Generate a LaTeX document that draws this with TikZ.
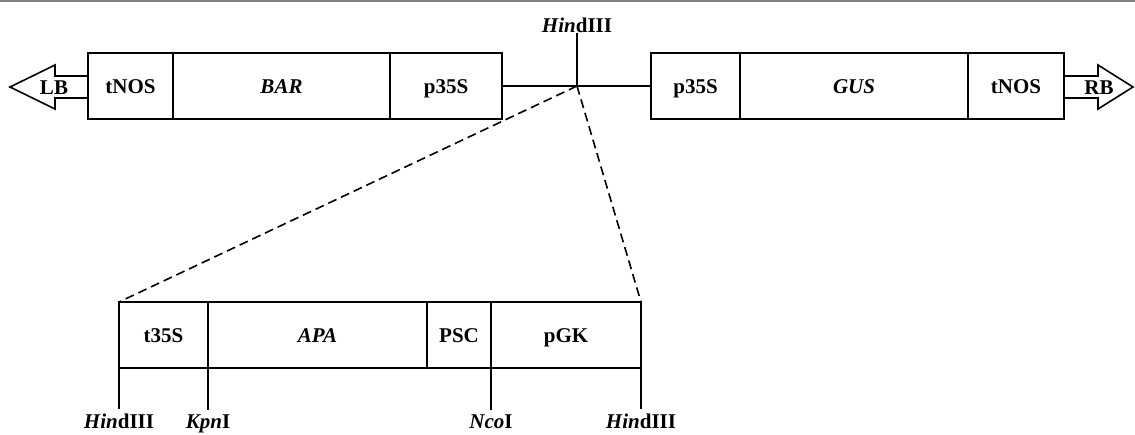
\documentclass[tikz,border=0pt]{standalone}
\usepackage{fontspec}
\setmainfont{Liberation Serif}
\begin{document}
\begin{tikzpicture}[x=1pt, y=-1pt, line width=1.6pt,
  font=\fontsize{21}{24}\selectfont\bfseries,
  seg/.style={draw, minimum height=66pt, inner sep=0pt, outer sep=0pt, anchor=west,
    text height=14pt, text depth=0pt},
  site/.style={inner sep=0pt, outer sep=0pt, anchor=base},
  zoomline/.style={dash pattern=on 9pt off 5pt}]
  \useasboundingbox (0,0) rectangle (1135,434);
  \draw[gray, line width=2pt] (0,1) -- (1135,1);
  % Upper T-DNA
  \node[seg, minimum width=85pt] (tnosL) at (88,86) {tNOS};
  \node[seg, minimum width=217pt] (bar) at (tnosL.east) {\itshape BAR};
  \node[seg, minimum width=112pt] (p35sL) at (bar.east) {p35S};
  \node[seg, minimum width=89pt] (p35sR) at (651,86) {p35S};
  \node[seg, minimum width=228pt] (gus) at (p35sR.east) {\itshape GUS};
  \node[seg, minimum width=96pt] (tnosR) at (gus.east) {tNOS};
  \draw (p35sL.east) -- (p35sR.west);
  \coordinate (hind) at (577,86);
  \node[site] (hindTop) at (577,32) {\textit{Hin}dIII};
  \draw (hind) -- ([yshift=-1pt]hindTop.south);
  % Borders
  \draw (tnosL.west |- 0,76) -- (55,76) -- (55,65) -- (10,87) -- (55,109) -- (55,98) -- (tnosL.west |- 0,98);
  \node[text height=14pt, text depth=0pt] (lb) at (54,87) {LB};
  \draw (tnosR.east |- 0,76) -- (1098,76) -- (1098,65) -- (1133,87) -- (1098,109) -- (1098,98) -- (tnosR.east |- 0,98);
  \node[text height=14pt, text depth=0pt] (rb) at (1099,87) {RB};
  % Inserted cassette
  \node[seg, minimum width=89pt] (t35s) at (119,335) {t35S};
  \node[seg, minimum width=219pt] (apa) at (t35s.east) {\itshape APA};
  \node[seg, minimum width=64pt] (psc) at (apa.east) {PSC};
  \node[seg, minimum width=150pt] (pgk) at (psc.east) {pGK};
  \draw[zoomline] (hind) -- (t35s.north west);
  \draw[zoomline] (hind) -- (pgk.north east);
  % Restriction sites
  \node[site] (hindA) at (119,428) {\textit{Hin}dIII};
  \node[site] (kpn) at (208,428) {\textit{Kpn}I};
  \node[site] (nco) at (491,428) {\textit{Nco}I};
  \node[site] (hindB) at (641,428) {\textit{Hin}dIII};
  \draw[shorten >=4pt] (t35s.south west) -- (hindA.north -| t35s.south west);
  \draw[shorten >=4pt] (apa.south west) -- (kpn.north -| apa.south west);
  \draw[shorten >=4pt] (pgk.south west) -- (nco.north -| pgk.south west);
  \draw[shorten >=4pt] (pgk.south east) -- (hindB.north -| pgk.south east);
\end{tikzpicture}
\end{document}
